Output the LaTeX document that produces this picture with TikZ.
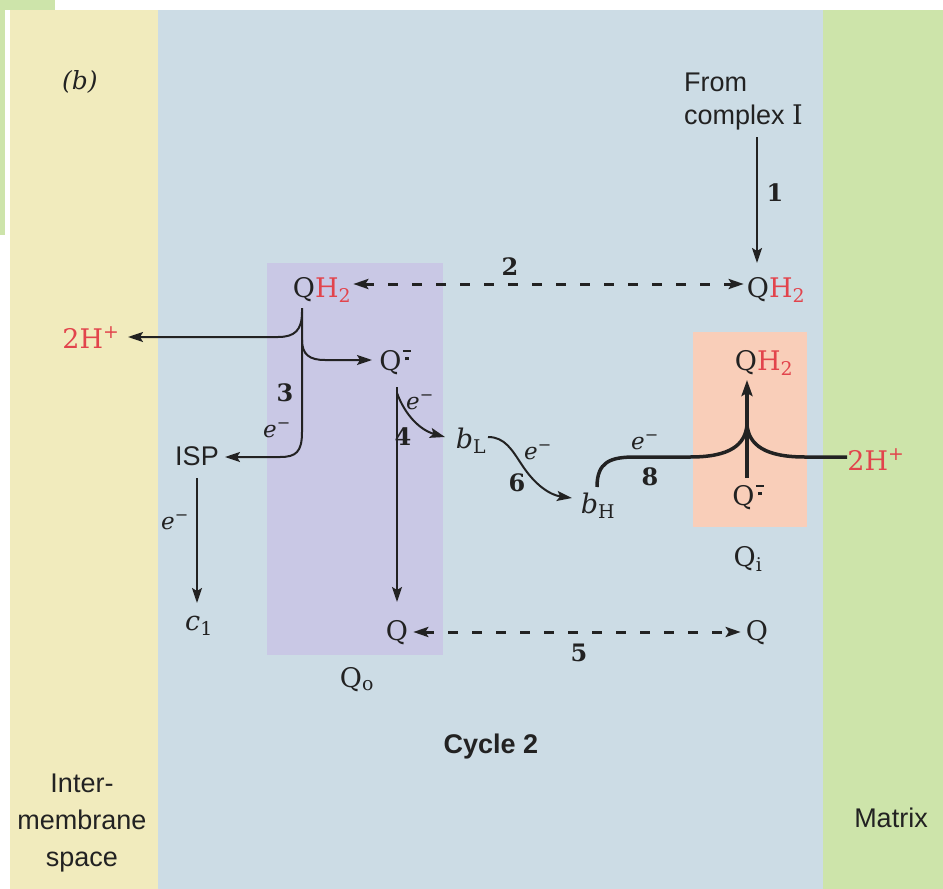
\documentclass[tikz,border=0pt]{standalone}
\usepackage{fontspec}
\setsansfont{Liberation Sans}
\newfontfamily\chemfont{DejaVu Serif}
\usetikzlibrary{arrows.meta,calc}
\definecolor{ims}{HTML}{F1EBBD}
\definecolor{mem}{HTML}{CCDCE5}
\definecolor{mat}{HTML}{CDE4AA}
\definecolor{qo}{HTML}{C9C8E5}
\definecolor{qi}{HTML}{F9CEB9}
\definecolor{qred}{HTML}{E2444C}
\definecolor{ink}{HTML}{222222}
\newcommand{\Qrad}{Q\kern0.05em\rlap{\raisebox{0.68em}{\rule{0.28em}{0.06em}}}\kern0.075em\raisebox{0.36em}{\rule{0.13em}{0.13em}}\kern0.075em}
\newcommand{\QHtwo}{Q{\color{qred}H\textsubscript{2}}}
\newcommand{\elec}{\textit{e}\textsuperscript{−}}
\begin{document}
\begin{tikzpicture}[x=1pt,y=-1pt,
  chem/.style={font=\fontsize{27}{32}\selectfont\chemfont, text=ink, inner sep=0pt, anchor=base},
  elab/.style={font=\fontsize{23}{30}\selectfont\chemfont, text=ink, inner sep=0pt},
  num/.style={font=\fontsize{24}{30}\selectfont\chemfont\bfseries, text=ink, inner sep=0pt},
  sans/.style={font=\fontsize{27}{33}\selectfont\sffamily, text=ink, inner sep=0pt},
  tip/.style={-{Stealth[length=15pt,width=10pt,inset=3pt]}},
  arr/.style={draw=ink, line width=2pt, tip},
  thickarr/.style={draw=ink, line width=3.5pt},
  dasharr/.style={draw=ink, line width=3pt, dash pattern=on 10pt off 14pt,
     {Stealth[length=15pt,width=10pt,inset=3pt]}-{Stealth[length=15pt,width=10pt,inset=3pt]}}
]
\useasboundingbox (0,0) rectangle (943,889);
% background panels
\fill[mat] (0,0) rectangle (55,235);
\fill[white] (5,10) rectangle (943,889);
\fill[ims] (10,10) rectangle (158,889);
\fill[mem] (158,10) rectangle (823,889);
\fill[mat] (823,10) rectangle (943,889);
\fill[qo] (267,263) rectangle (443,655);
\fill[qi] (693,332) rectangle (807,527);

% labels
\node[elab, font=\fontsize{25}{30}\selectfont\chemfont\itshape] (blab) at (80,82) {(b)};
\node[sans, anchor=north west, align=left] (from) at (684,72.5) {From\\complex {\chemfont I}};
\node[chem] (qh2l) at (322,297) {\QHtwo};
\node[chem] (qh2r) at (776,297) {\QHtwo};
\node[chem] (qrado) at (395,370) {\Qrad};
\node[chem] (bl) at (471,448) {\textit{b}\textsubscript{L}};
\node[chem] (bh) at (598,513) {\textit{b}\textsubscript{H}};
\node[chem] (qh2i) at (764,370) {\QHtwo};
\node[chem] (qradi) at (748,505) {\Qrad};
\node[chem] (qilab) at (748,566) {Q\textsubscript{i}};
\node[chem] (qol) at (397,640) {Q};
\node[chem] (qor) at (757,640) {Q};
\node[chem] (qolab) at (357,687) {Q\textsubscript{o}};
\node[chem] (c1) at (199,630) {\textit{c}\textsubscript{1}};
\node[chem, text=qred] (hl) at (91,348) {2H\textsuperscript{+}};
\node[chem, text=qred] (hr) at (876,470) {2H\textsuperscript{+}};
\node[sans, anchor=base] (isp) at (197,465) {ISP};
\node[sans, anchor=base] (cyc) at (491,753) {\bfseries Cycle 2};
\node[sans, anchor=north, align=center, font=\fontsize{27}{37}\selectfont\sffamily] (imsl) at (82,774) {Inter-\\membrane\\space};
\node[sans, anchor=base] (matl) at (891,827) {Matrix};

% step numbers
\node[num] (n1) at (775,193) {1};
\node[num] (n2) at (510,267) {2};
\node[num] (n3) at (285,393) {3};
\node[num] (n4) at (403,437) {4};
\node[num] (n5) at (579,653) {5};
\node[num] (n6) at (517,483) {6};
\node[num] (n8) at (650,477) {8};
% electrons
\node[elab] (e1) at (175,522) {\elec};
\node[elab] (e3) at (277,430) {\elec};
\node[elab] (e4) at (420,402) {\elec};
\node[elab] (e6) at (538,452) {\elec};
\node[elab] (e8) at (645,442) {\elec};

% connector end points
\coordinate (a1s) at (757,137);
\coordinate (a1e) at (757,263);
\coordinate (split) at (302,312);
\coordinate (q3b) at (302,432);
\coordinate (ispend) at (225,457);
\coordinate (hlend) at (128,337);
\coordinate (qradend) at (372,360);
\coordinate (v4s) at (397,387);
\coordinate (v4e) at (397,602);
\coordinate (blend) at (445,437);
\coordinate (b6s) at (488,437);
\coordinate (bhend) at (572,498);
\coordinate (b8s) at (597,487);
\coordinate (join) at (747,425);
\coordinate (hrend) at (847,457);
\coordinate (qiv) at (747,478);
\coordinate (qitip) at (747,380);

% step 1
\draw[arr] (a1s) -- (a1e);
% step 2 and 5 (dashed)
\draw[dasharr] ($(qh2l.base east)+(2,-13)$) -- ($(qh2r.base west)+(-3,-13)$);
\draw[dasharr] ($(qol.base east)+(5,-8)$) -- ($(qor.base west)+(-5,-8)$);
% step 3 : QH2 -> ISP, 2H+, Q radical
\draw[arr] (302,308) -- (q3b) .. controls (302,452) and (296,457) .. (280,457) -- (ispend);
\draw[arr] (split) .. controls (302,330) and (295,337) .. (278,337) -- (hlend);
\draw[arr] (302,340) .. controls (302,355) and (310,360) .. (325,360) -- (qradend);
% ISP -> c1
\draw[arr] (197,478) -- (197,603);
% step 4
\draw[arr] (v4s) -- (v4e);
\draw[arr] (397,393) .. controls (405,415) and (420,430) .. (blend);
% step 6
\draw[arr] (b6s) .. controls (505,437) and (512,450) .. (522,465) .. controls (535,485) and (550,495) .. (bhend);
% step 8
\draw[thickarr] (b8s) .. controls (597,462) and (610,457) .. (635,457) -- (690,457) .. controls (730,457) and (745,445) .. (join);
\draw[thickarr] (hrend) -- (805,457) .. controls (765,457) and (749,445) .. (join);
\draw[thickarr, -{Stealth[length=16pt,width=11pt,inset=3pt]}] (qiv) -- (qitip);
\end{tikzpicture}
\end{document}
